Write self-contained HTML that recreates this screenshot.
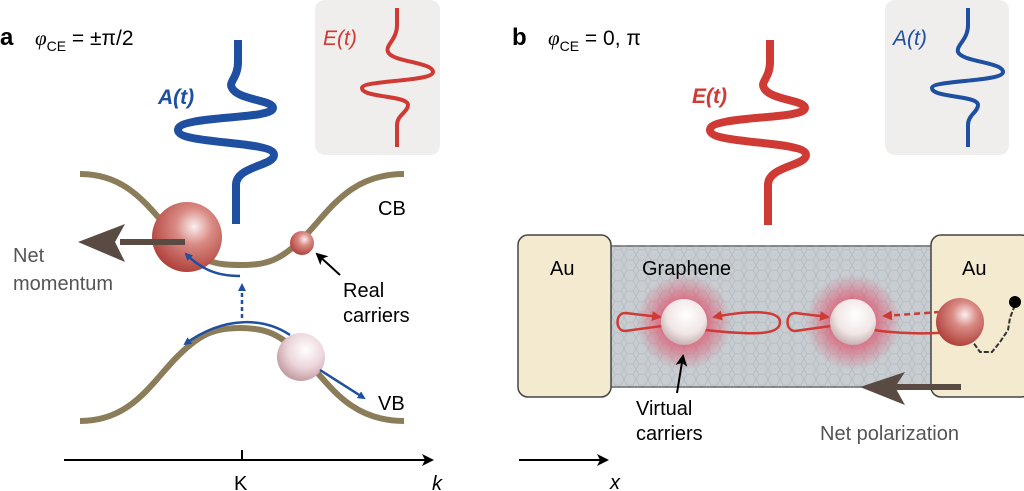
<!DOCTYPE html>
<html><head><meta charset="utf-8"><style>
html,body{margin:0;padding:0;background:#fff;width:1024px;height:491px;overflow:hidden}
svg{display:block}
text{font-family:"Liberation Sans",sans-serif}
</style></head><body>
<svg width="1024" height="491" viewBox="0 0 1024 491" xmlns="http://www.w3.org/2000/svg">
<defs>
<radialGradient id="red" cx="0.6" cy="0.35" r="0.75">
<stop offset="0" stop-color="#fbeeee"/><stop offset="0.35" stop-color="#d98a84"/><stop offset="1" stop-color="#a8322c"/></radialGradient>
<radialGradient id="pink" cx="0.6" cy="0.35" r="0.75">
<stop offset="0" stop-color="#ffffff"/><stop offset="0.5" stop-color="#ecd6da"/><stop offset="1" stop-color="#b88a92"/></radialGradient>
<radialGradient id="white" cx="0.55" cy="0.35" r="0.75">
<stop offset="0" stop-color="#ffffff"/><stop offset="0.55" stop-color="#f1e6e6"/><stop offset="1" stop-color="#b89a9c"/></radialGradient>
<radialGradient id="glow" cx="0.5" cy="0.5" r="0.5">
<stop offset="0.4" stop-color="#e0506a" stop-opacity="0.8"/><stop offset="1" stop-color="#e0506a" stop-opacity="0"/></radialGradient>
<pattern id="hex" width="12" height="10.4" patternUnits="userSpaceOnUse">
<path d="M0 5.2 L3 0 L9 0 L12 5.2 L9 10.4 L3 10.4 Z" fill="none" stroke="#aeb4ba" stroke-width="0.6"/></pattern>
<marker id="bl" markerWidth="8" markerHeight="8" refX="6" refY="4" orient="auto" markerUnits="userSpaceOnUse"><path d="M0 0 L8 4 L0 8 Z" fill="#1e4fa0"/></marker>
<marker id="bk" markerWidth="12" markerHeight="12" refX="10" refY="6" orient="auto" markerUnits="userSpaceOnUse"><path d="M0 0 L12 6 L0 12 L3 6 Z" fill="#000"/></marker>
<marker id="rd" markerWidth="10" markerHeight="10" refX="8" refY="5" orient="auto" markerUnits="userSpaceOnUse"><path d="M0 0 L10 5 L0 10 Z" fill="#d03a34"/></marker>
</defs>

<!-- Panel a -->
<text x="0" y="45" font-size="24" font-weight="bold">a</text>
<text x="35" y="45" font-size="21"><tspan font-family="Liberation Serif" font-style="italic">φ</tspan><tspan font-size="14" dy="6">CE</tspan><tspan dy="-6"> = ±π/2</tspan></text>
<rect x="315" y="0" width="125" height="155" rx="10" fill="#efeeec"/>
<text x="323" y="45" font-size="21" font-style="italic" fill="#d03a34">E(t)</text>
<path d="M397 8 L397 25 C397 40 385 45 388 52 C392 62 433 62 433 72 C433 82 362 80 362 88 C362 98 408 95 408 105 C408 112 397 115 397 125 L397 147" fill="none" stroke="#d03a34" stroke-width="4"/>
<text x="158" y="104" font-size="21" font-weight="bold" font-style="italic" fill="#1e4fa0">A(t)</text>
<path d="M238 40 L238 62 C238 78 228 82 232 88 C238 100 273 100 273 108 C273 120 178 115 178 130 C178 145 274 140 274 155 C274 166 236 166 236 185 L236 224" fill="none" stroke="#1e4fa0" stroke-width="8"/>
<!-- bands -->
<path d="M80 174 C130 174 150 210 175 236 C200 262 215 265 240 265 C265 265 280 262 305 236 C330 210 350 174 404 174" fill="none" stroke="#8b7d5a" stroke-width="6"/>
<path d="M80 421 C130 421 150 385 175 359 C200 333 215 328 240 328 C265 328 280 333 305 359 C330 385 350 421 404 421" fill="none" stroke="#8b7d5a" stroke-width="6"/>
<!-- big sphere & arrow -->
<circle cx="187" cy="237" r="35" fill="url(#red)"/>
<path d="M185 242 L120 242" stroke="#5a4a44" stroke-width="6"/>
<path d="M78 242 L125 224 L115 242 L125 262 Z" fill="#5a4a44"/>
<text x="13" y="262" font-size="20" fill="#555">Net</text>
<text x="13" y="290" font-size="20" fill="#555">momentum</text>
<path d="M240 276 C215 276 200 268 186 254" fill="none" stroke="#1e4fa0" stroke-width="2.5" marker-end="url(#bl)"/>
<path d="M242 318 L242 285" fill="none" stroke="#1e4fa0" stroke-width="2.5" stroke-dasharray="4 3" marker-end="url(#bl)"/>
<path d="M290 335 C265 318 225 315 185 344" fill="none" stroke="#1e4fa0" stroke-width="2.5" marker-end="url(#bl)"/>
<circle cx="302" cy="243" r="12" fill="url(#red)"/>
<circle cx="301" cy="357" r="24" fill="url(#pink)"/>
<path d="M320 370 L364 398" fill="none" stroke="#1e4fa0" stroke-width="2.5" marker-end="url(#bl)"/>
<text x="378" y="215" font-size="20">CB</text>
<text x="378" y="410" font-size="20">VB</text>
<text x="343" y="297" font-size="20">Real</text>
<text x="343" y="322" font-size="20">carriers</text>
<path d="M340 275 L317 254" stroke="#000" stroke-width="2" marker-end="url(#bk)"/>
<path d="M64 460 L432 460" stroke="#000" stroke-width="2" marker-end="url(#bk)"/>
<path d="M242 450 L242 460" stroke="#000" stroke-width="2"/>
<text x="234" y="490" font-size="20">K</text>
<text x="432" y="490" font-size="20" font-style="italic">k</text>

<!-- Panel b -->
<text x="512" y="45" font-size="24" font-weight="bold">b</text>
<text x="548" y="45" font-size="21"><tspan font-family="Liberation Serif" font-style="italic">φ</tspan><tspan font-size="14" dy="6">CE</tspan><tspan dy="-6"> = 0, π</tspan></text>
<text x="692" y="103" font-size="21" font-weight="bold" font-style="italic" fill="#d03a34">E(t)</text>
<path d="M770 40 L770 62 C770 78 760 82 764 88 C770 100 805 100 805 108 C805 120 710 115 710 130 C710 145 806 140 806 155 C806 166 768 166 768 185 L768 225" fill="none" stroke="#d03a34" stroke-width="8"/>
<rect x="885" y="0" width="124" height="155" rx="10" fill="#efeeec"/>
<text x="893" y="45" font-size="21" font-style="italic" fill="#1e4fa0">A(t)</text>
<path d="M968 8 L968 25 C968 40 956 45 958 52 C962 62 1003 62 1003 72 C1003 82 932 80 932 88 C932 98 978 95 978 105 C978 112 968 115 968 125 L968 147" fill="none" stroke="#1e4fa0" stroke-width="4"/>
<!-- device -->
<rect x="604" y="246" width="334" height="141" fill="#c8cdd2" stroke="#666" stroke-width="1.5"/>
<rect x="604" y="246" width="334" height="141" fill="url(#hex)"/>
<rect x="518" y="235" width="93" height="162" rx="10" fill="#f3ead0" stroke="#444" stroke-width="1.5"/>
<rect x="931" y="235" width="100" height="162" rx="10" fill="#f3ead0" stroke="#444" stroke-width="1.5"/>
<text x="550" y="275" font-size="20">Au</text>
<text x="962" y="275" font-size="20">Au</text>
<text x="642" y="275" font-size="20">Graphene</text>
<circle cx="684" cy="322" r="48" fill="url(#glow)"/>
<circle cx="853" cy="322" r="48" fill="url(#glow)"/>
<path d="M662 326 L625 331 C615 331 615 313 625 313 L660 317" fill="none" stroke="#d03a34" stroke-width="2.5" marker-end="url(#rd)"/>
<path d="M705 330 C760 336 780 334 780 322 C780 310 750 310 714 317" fill="none" stroke="#d03a34" stroke-width="2.5" marker-end="url(#rd)"/>
<path d="M831 326 L795 331 C785 331 785 313 795 313 L828 317" fill="none" stroke="#d03a34" stroke-width="2.5" marker-end="url(#rd)"/>
<path d="M874 330 C900 334 930 334 950 332" fill="none" stroke="#d03a34" stroke-width="2.5"/>
<path d="M940 312 L884 316" fill="none" stroke="#d03a34" stroke-width="2.5" stroke-dasharray="6 4" marker-end="url(#rd)"/>
<circle cx="684" cy="322" r="23" fill="url(#white)"/>
<circle cx="853" cy="322" r="23" fill="url(#white)"/>
<path d="M970 338 L980 352 L992 352 L1000 342 L1008 330 L1010 318 L1015 305" fill="none" stroke="#333" stroke-width="2" stroke-dasharray="5 2"/>
<circle cx="960" cy="322" r="24" fill="url(#red)"/>
<circle cx="1015" cy="302" r="6" fill="#000"/>
<path d="M961 387 L895 387" stroke="#5a4a44" stroke-width="6"/>
<path d="M860 387 L905 372 L895 387 L905 405 Z" fill="#5a4a44"/>
<text x="820" y="440" font-size="20" fill="#555">Net polarization</text>
<text x="636" y="415" font-size="20">Virtual</text>
<text x="636" y="440" font-size="20">carriers</text>
<path d="M677 393 L683 356" stroke="#000" stroke-width="2" marker-end="url(#bk)"/>
<path d="M519 460 L607 460" stroke="#000" stroke-width="2" marker-end="url(#bk)"/>
<text x="610" y="489" font-size="20" font-style="italic">x</text>
</svg>
</body></html>
